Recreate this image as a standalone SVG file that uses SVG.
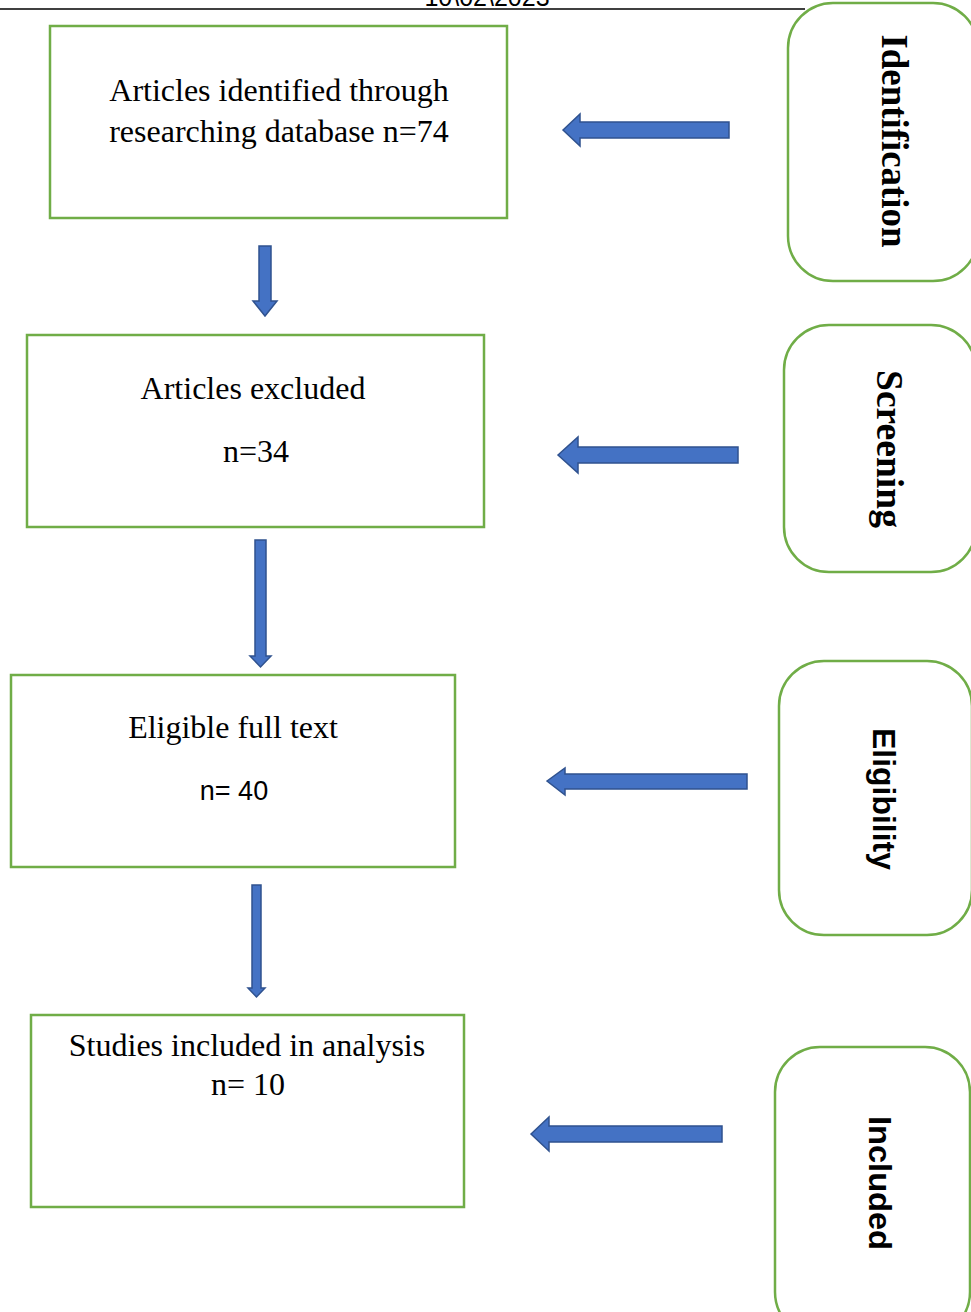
<svg xmlns="http://www.w3.org/2000/svg" width="971" height="1312" viewBox="0 0 971 1312">
<style>
.box{fill:#fff;stroke:#70AD47;stroke-width:2.5}
.side{fill:#fff;stroke:#70AD47;stroke-width:2.5}
.arr{fill:#4472C4;stroke:#2F528F;stroke-width:1.5;stroke-linejoin:miter}
.serif{font-family:"Liberation Serif","Times New Roman",serif;font-size:32px;fill:#000;text-anchor:middle}
.sans{font-family:"Liberation Sans",Arial,sans-serif;font-size:27px;fill:#000;text-anchor:middle}
.lblS{font-family:"Liberation Serif","Times New Roman",serif;font-weight:bold;font-size:37px;fill:#000;text-anchor:middle}
.lblA{font-family:"Liberation Sans",Arial,sans-serif;font-weight:bold;font-size:32px;fill:#000;text-anchor:middle}
</style>
<rect width="971" height="1312" fill="#fff"/>
<g id="header">
<text x="487" y="6" font-family="Liberation Sans, Arial, sans-serif" font-size="25" text-anchor="middle">10\02\2023</text>
<line x1="0" y1="9" x2="805" y2="9" stroke="#000" stroke-width="1.5"/>
</g>
<g id="n1"><rect class="box" x="50" y="26" width="457" height="192"/>
<text class="serif" x="279" y="101">Articles identified through</text>
<text class="serif" x="279" y="142">researching database n=74</text></g>
<g id="n2"><rect class="box" x="27" y="335" width="457" height="192"/>
<text class="serif" x="253" y="399">Articles excluded</text>
<text class="serif" x="256" y="462">n=34</text></g>
<g id="n3"><rect class="box" x="11" y="675" width="444" height="192"/>
<text class="serif" x="233" y="738">Eligible full text</text>
<text class="sans" x="234" y="800">n= 40</text></g>
<g id="n4"><rect class="box" x="31" y="1015" width="433" height="192"/>
<text class="serif" x="247" y="1056">Studies included in analysis</text>
<text class="serif" x="248" y="1095">n= 10</text></g>
<g id="s1"><rect class="side" x="788" y="3" width="190" height="278" rx="45"/>
<text class="lblS" transform="translate(882,141) rotate(90)" textLength="213" lengthAdjust="spacingAndGlyphs">Identification</text></g>
<g id="s2"><rect class="side" x="784" y="325" width="192" height="247" rx="45"/>
<text class="lblS" transform="translate(877,449) rotate(90)" textLength="158" lengthAdjust="spacingAndGlyphs">Screening</text></g>
<g id="s3"><rect class="side" x="779" y="661" width="193" height="274" rx="45"/>
<text class="lblA" transform="translate(873,799) rotate(90)" textLength="142" lengthAdjust="spacingAndGlyphs">Eligibility</text></g>
<g id="s4"><rect class="side" x="775" y="1047" width="195" height="290" rx="45"/>
<text class="lblA" transform="translate(869,1183) rotate(90)" textLength="134" lengthAdjust="spacingAndGlyphs">Included</text></g>
<g id="connectors">
<path class="arr" d="M563,130 L580,114 L580,122 L729,122 L729,138 L580,138 L580,146 Z"/>
<path class="arr" d="M558,455 L578,437 L578,447 L738,447 L738,463 L578,463 L578,473 Z"/>
<path class="arr" d="M547,781 L565,768 L565,774 L747,774 L747,789 L565,789 L565,795 Z"/>
<path class="arr" d="M531,1134 L549,1117 L549,1126 L722,1126 L722,1142 L549,1142 L549,1151 Z"/>
<path class="arr" d="M259,246 L271,246 L271,301 L277,301 L265,316 L253,301 L259,301 Z"/>
<path class="arr" d="M255,540 L266,540 L266,656 L271,656 L260.5,667 L250,656 L255,656 Z"/>
<path class="arr" d="M252,885 L261,885 L261,988 L265,988 L256.5,997 L248,988 L252,988 Z"/>
</g>
</svg>
